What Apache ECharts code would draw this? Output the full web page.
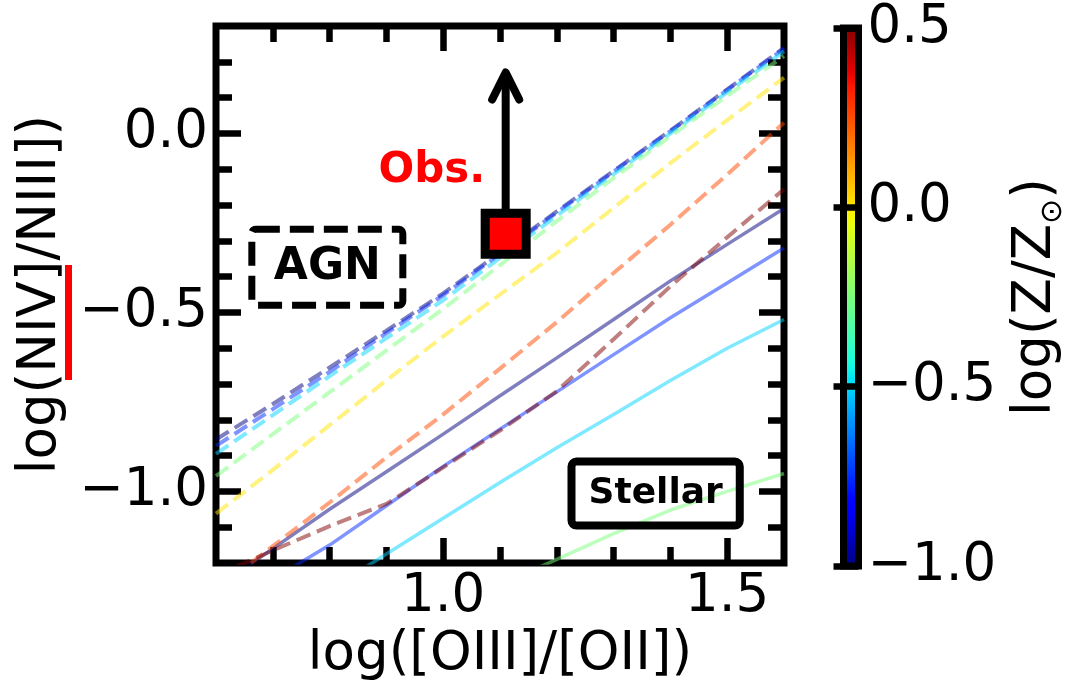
<!DOCTYPE html>
<html>
<head>
<meta charset="utf-8">
<script src="https://cdn.jsdelivr.net/npm/echarts@6/dist/echarts.min.js"></script>
<style>
  html, body { margin: 0; padding: 0; background: #fff; }
  #chart { width: 1065px; height: 689px; }
</style>
</head>
<body>
<div id="chart"></div>
<script>
// ---- data -----------------------------------------------------------------
// log([OIII]/[OII]) grid on which every model track is sampled
const logO3O2 = [0.6, 0.7, 0.8, 0.9, 1.0, 1.1, 1.2, 1.3, 1.4, 1.5, 1.6];

// metallicities log(Z/Zsun) of the model tracks
const metallicity = [-1.0, -0.75, -0.5, -0.25, 0.0, 0.25, 0.5];

// AGN photoionisation tracks: log(NIV]/NIII]) (dashed)
const agnZm100 = [-0.855, -0.756, -0.654, -0.551, -0.447, -0.333, -0.218, -0.105, 0.008, 0.123, 0.239];
const agnZm075 = [-0.873, -0.770, -0.666, -0.558, -0.452, -0.337, -0.221, -0.107, 0.006, 0.121, 0.237];
const agnZm050 = [-0.895, -0.787, -0.678, -0.572, -0.466, -0.348, -0.230, -0.114, 0.000, 0.115, 0.229];
const agnZm025 = [-0.957, -0.840, -0.723, -0.606, -0.490, -0.368, -0.245, -0.125, -0.008, 0.105, 0.216];
const agnZp000 = [-1.062, -0.940, -0.815, -0.690, -0.567, -0.450, -0.334, -0.208, -0.083, 0.037, 0.156];
const agnZp025 = [-1.275, -1.153, -1.031, -0.905, -0.785, -0.657, -0.527, -0.390, -0.255, -0.115, 0.030];
const agnZp050 = [-1.235, -1.165, -1.097, -1.035, -0.933, -0.830, -0.720, -0.575, -0.427, -0.290, -0.156];

// stellar photoionisation tracks: log(NIV]/NIII]) (solid)
const starZm100 = [-1.270, -1.160, -1.050, -0.945, -0.840, -0.733, -0.627, -0.520, -0.412, -0.310, -0.210];
const starZm075 = [-1.345, -1.245, -1.150, -1.040, -0.930, -0.826, -0.722, -0.618, -0.515, -0.418, -0.320];
const starZm050 = [null, null, -1.275, -1.175, -1.075, -0.975, -0.878, -0.785, -0.690, -0.600, -0.520];
const starZm025 = [null, null, null, null, null, -1.260, -1.190, -1.118, -1.052, -1.000, -0.950];

// observed object: lower limit on log(NIV]/NIII])
const obsO3O2 = 1.11;
const obsN4N3 = -0.28;
const obsArrowTip = 0.17;

// annotation anchors (data coordinates)
const obsTextAt = [0.98, -0.105];
const agnTextAt = [0.796, -0.374];
const stellarTextAt = [1.374, -1.006];

// axes
const xRange = [0.6, 1.6];
const yRange = [-1.2, 0.3];
const xMajorTicks = [1.0, 1.5];
const xMinorTicks = [0.7, 0.8, 0.9, 1.1, 1.2, 1.3, 1.4];
const yMajorTicks = [-1.0, -0.5, 0.0];
const yMinorTicks = [-1.1, -0.9, -0.8, -0.7, -0.6, -0.4, -0.3, -0.2, -0.1, 0.1, 0.2];
const zRange = [-1.0, 0.5];
const zTicks = [-1.0, -0.5, 0.0, 0.5];

// ---- colour map (matplotlib "jet") -----------------------------------------
const JET = {
  r: [[0, 0], [0.35, 0], [0.66, 1], [0.89, 1], [1, 0.5]],
  g: [[0, 0], [0.125, 0], [0.375, 1], [0.64, 1], [0.91, 0], [1, 0]],
  b: [[0, 0.5], [0.11, 1], [0.34, 1], [0.65, 0], [1, 0]]
};
function seg(pts, t) {
  for (let i = 1; i < pts.length; i++) {
    if (t <= pts[i][0]) {
      const [x0, y0] = pts[i - 1], [x1, y1] = pts[i];
      return y0 + (y1 - y0) * (t - x0) / (x1 - x0);
    }
  }
  return pts[pts.length - 1][1];
}
function jet(t, a) {
  const c = ['r', 'g', 'b'].map(k => Math.round(seg(JET[k], t) * 255));
  return a == null ? `rgb(${c.join(',')})` : `rgba(${c.join(',')},${a})`;
}
const zNorm = z => (z - zRange[0]) / (zRange[1] - zRange[0]);

// ---- styling helpers -------------------------------------------------------
const FONT = 'DejaVu Sans';
const FS = 53;
const fmt = v => (v < 0 ? '\u2212' : '') + Math.abs(v).toFixed(1);
const tickStyle = { color: '#000', width: 6.5 };

function tickAxis(position, range, values, length, withLabels, extra) {
  return Object.assign({
    type: 'value', gridIndex: 0, position, min: range[0], max: range[1],
    axisLine: { show: false, onZero: false },
    splitLine: { show: false },
    axisTick: { show: true, inside: true, length, customValues: values, lineStyle: tickStyle },
    axisLabel: withLabels
      ? { show: true, customValues: values, formatter: fmt, fontFamily: FONT, fontSize: FS, color: '#000' }
      : { show: false }
  }, extra || {});
}

function track(values, z, dashed) {
  const pts = [];
  logO3O2.forEach((x, i) => { if (values[i] !== null) pts.push([x, values[i]]); });
  return {
    type: 'line', xAxisIndex: 0, yAxisIndex: 0, data: pts,
    symbol: 'none', clip: true, silent: true, z: 2,
    lineStyle: {
      color: jet(zNorm(z), 0.5),
      width: dashed ? 4 : 3.5,
      type: dashed ? [15, 7] : 'solid',
      cap: 'butt'
    }
  };
}

const agnTracks = [agnZm100, agnZm075, agnZm050, agnZm025, agnZp000, agnZp025, agnZp050];
const starTracks = [starZm100, starZm075, starZm050, starZm025];

const series = [];
starTracks.forEach((v, i) => series.push(track(v, metallicity[i], false)));
agnTracks.forEach((v, i) => series.push(track(v, metallicity[i], true)));

// lower-limit arrow of the observation
series.push({
  type: 'custom', xAxisIndex: 0, yAxisIndex: 0, z: 5, silent: true, clip: false,
  data: [[obsO3O2, obsN4N3, obsArrowTip]],
  renderItem(params, api) {
    const base = api.coord([api.value(0), api.value(1)]);
    const tip = api.coord([api.value(0), api.value(2)]);
    return {
      type: 'group',
      children: [
        { type: 'line', shape: { x1: base[0], y1: base[1], x2: tip[0], y2: tip[1] + 3 },
          style: { stroke: '#000', lineWidth: 8, fill: 'none' } },
        { type: 'polyline',
          shape: { points: [[tip[0] - 13.5, tip[1] + 27], [tip[0], tip[1]], [tip[0] + 13.5, tip[1] + 27]] },
          style: { stroke: '#000', lineWidth: 8, lineCap: 'round', lineJoin: 'round', fill: 'none' } }
      ]
    };
  }
});

// observed point
series.push({
  type: 'scatter', xAxisIndex: 0, yAxisIndex: 0, z: 6, silent: true,
  data: [[obsO3O2, obsN4N3]],
  symbol: 'rect', symbolSize: 41,
  itemStyle: { color: '#ff0000', borderColor: '#000', borderWidth: 9, opacity: 1 }
});

// text annotations
series.push({
  type: 'scatter', xAxisIndex: 0, yAxisIndex: 0, z: 7, silent: true,
  symbolSize: 1, itemStyle: { color: 'transparent', opacity: 1 },
  data: [
    { value: obsTextAt, label: { show: true, position: 'inside', formatter: 'Obs.',
      fontFamily: FONT, fontWeight: 'bold', fontSize: 42, color: '#ff0000', opacity: 1 } },
    { value: agnTextAt, label: { show: true, position: 'inside', formatter: 'AGN',
      fontFamily: FONT, fontWeight: 'bold', fontSize: 44, color: '#000', lineHeight: 52, opacity: 1,
      borderColor: '#000', borderWidth: 7, borderType: [24, 10], borderRadius: 4, padding: [12, 22] } },
    { value: stellarTextAt, label: { show: true, position: 'inside', formatter: 'Stellar',
      fontFamily: FONT, fontWeight: 'bold', fontSize: 36, color: '#000', lineHeight: 42, opacity: 1,
      borderColor: '#000', borderWidth: 8, borderRadius: 5, padding: [11, 17] } }
  ]
});

// colour-bar gradient built from the colour map
const cbarStops = [];
for (let i = 0; i <= 60; i++) cbarStops.push({ offset: i / 60, color: jet(1 - i / 60) });

const option = {
  animation: false,
  backgroundColor: '#fff',
  grid: [
    { left: 216, top: 26, width: 568, height: 537, show: true, borderColor: '#000', borderWidth: 7,
      backgroundColor: 'transparent', outerBoundsMode: 'none', containLabel: false },
    { left: 843.5, top: 28, width: 15, height: 538, show: true, borderColor: '#000', borderWidth: 7,
      outerBoundsMode: 'none', containLabel: false,
      backgroundColor: { type: 'linear', x: 0, y: 0, x2: 0, y2: 1, colorStops: cbarStops } }
  ],
  xAxis: [
    tickAxis('bottom', xRange, xMajorTicks, 25, true, {
      name: 'log([OIII]/[OII])', nameLocation: 'middle', nameGap: 64,
      nameTextStyle: { fontFamily: FONT, fontSize: FS, color: '#000' }
    }),
    tickAxis('bottom', xRange, xMinorTicks, 16, false),
    tickAxis('top', xRange, xMajorTicks, 25, false),
    tickAxis('top', xRange, xMinorTicks, 16, false),
    { type: 'value', gridIndex: 1, show: false, min: 0, max: 1 }
  ],
  yAxis: [
    tickAxis('left', yRange, yMajorTicks, 25, true, {
      name: 'log(NIV]/NIII])', nameLocation: 'middle', nameRotate: 90, nameGap: 148,
      nameTextStyle: { fontFamily: FONT, fontSize: FS, color: '#000' }
    }),
    tickAxis('left', yRange, yMinorTicks, 16, false),
    tickAxis('right', yRange, yMajorTicks, 25, false),
    tickAxis('right', yRange, yMinorTicks, 16, false),
    {
      type: 'value', gridIndex: 1, position: 'right', min: zRange[0], max: zRange[1],
      axisLine: { show: false, onZero: false }, splitLine: { show: false },
      axisTick: { show: true, inside: true, length: 15, customValues: zTicks, lineStyle: tickStyle },
      axisLabel: { show: true, customValues: zTicks, formatter: fmt, margin: 9,
        fontFamily: FONT, fontSize: FS, color: '#000' },
      name: 'log(Z/Z{s|\u2299})', nameLocation: 'middle', nameRotate: 90, nameGap: 146,
      nameTextStyle: { fontFamily: FONT, fontSize: FS, color: '#000',
        rich: { s: { fontFamily: FONT, fontSize: 30, color: '#000', padding: [34, 0, 0, 0] } } }
    },
    {
      type: 'value', gridIndex: 1, position: 'left', min: zRange[0], max: zRange[1],
      axisLine: { show: false, onZero: false }, splitLine: { show: false },
      axisTick: { show: true, inside: false, length: 10, customValues: zTicks, lineStyle: tickStyle },
      axisLabel: { show: false }
    }
  ],
  graphic: [
    // red underline in the y-axis title
    { type: 'rect', left: 65, top: 265, shape: { width: 7, height: 115 }, style: { fill: '#ff0000' }, z: 10 }
  ],
  series
};

const chart = echarts.init(document.getElementById('chart'), null, { renderer: 'canvas' });
chart.setOption(option);
</script>
</body>
</html>
